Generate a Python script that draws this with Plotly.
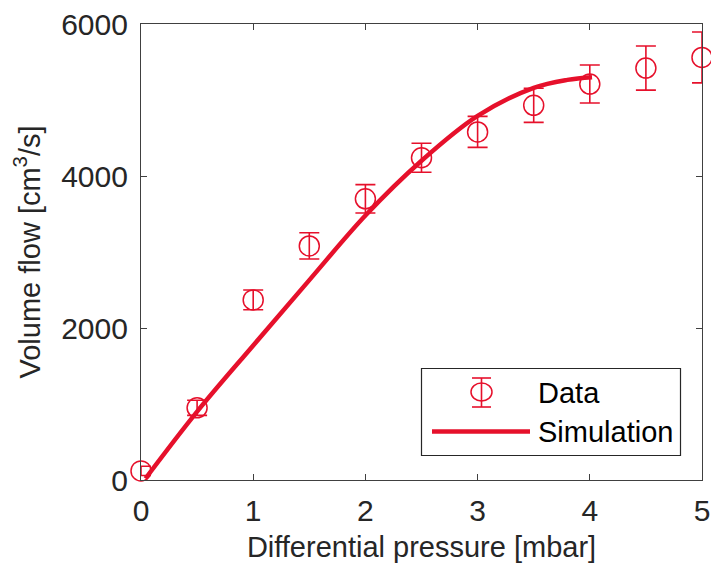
import plotly.graph_objects as go

# Measured volume flow versus differential pressure
pressure = [0, 0.5, 1.0, 1.5, 2.0, 2.5, 3.0, 3.5, 4.0, 4.5, 5.0]
flow = [120, 950, 2370, 3080, 3700, 4240, 4580, 4930, 5210, 5420, 5560]
flow_err = [60, 100, 130, 173, 186, 190, 204, 224, 250, 290, 335]

# Simulated curve
sim_pressure = [0.04, 0.5, 1.0, 1.5, 2.0, 2.5, 3.0, 3.5, 3.8, 4.02]
sim_flow = [20, 900, 1770, 2630, 3480, 4200, 4790, 5160, 5265, 5300]

x_ticks = [0, 1, 2, 3, 4, 5]
y_ticks = [0, 2000, 4000, 6000]

RED = "#E6102B"
AXIS = "#404040"
TEXT = "#262626"
FONT = "Liberation Sans, Arial, sans-serif"

W, H = 711, 566
L, R, T, B = 141, 9, 24, 86
PW, PH = W - L - R, H - T - B


def px(x):
    return (x - L) / PW


def py(y):
    return (H - B - y) / PH


fig = go.Figure()
fig.add_trace(go.Scatter(
    x=sim_pressure, y=sim_flow, mode="lines",
    line=dict(color=RED, width=4.5, shape="spline", smoothing=1.0),
    showlegend=False, cliponaxis=False,
))
fig.add_trace(go.Scatter(
    x=pressure, y=flow, mode="markers",
    marker=dict(symbol="circle-open", size=20, color=RED, line=dict(width=1.5, color=RED)),
    error_y=dict(type="data", array=flow_err, visible=True, color=RED, thickness=1.6, width=10),
    showlegend=False, cliponaxis=False,
))

axis_common = dict(
    showgrid=False, zeroline=False, showline=True, mirror="allticks",
    linecolor=AXIS, linewidth=1.2, ticks="inside", ticklen=6, tickwidth=1.2,
    tickcolor=AXIS, tickfont=dict(family=FONT, size=30, color=TEXT), automargin=False,
)

fig.update_xaxes(
    range=[0, 5], tickvals=x_ticks, ticktext=[str(v) for v in x_ticks],
    title=dict(text="Differential pressure [mbar]", font=dict(family=FONT, size=29, color=TEXT), standoff=10),
    ticklabelstandoff=4, **axis_common,
)
fig.update_yaxes(
    range=[0, 6000], tickvals=y_ticks, ticktext=[str(v) for v in y_ticks],
    title=dict(text="Volume flow [cm<sup>3</sup>/s]", font=dict(family=FONT, size=29, color=TEXT), standoff=12),
    ticklabelstandoff=6, **axis_common,
)

# Legend box drawn by hand
shapes = [
    dict(type="rect", xref="paper", yref="paper", x0=px(421.5), x1=px(680.5), y0=py(455.5), y1=py(368.5),
         line=dict(color=TEXT, width=1.2), fillcolor="white", layer="above"),
    dict(type="circle", xref="paper", yref="paper", x0=px(471), x1=px(492), y0=py(401), y1=py(383),
         line=dict(color=RED, width=1.5), layer="above"),
    dict(type="line", xref="paper", yref="paper", x0=px(481.5), x1=px(481.5), y0=py(407), y1=py(378),
         line=dict(color=RED, width=1.6), layer="above"),
    dict(type="line", xref="paper", yref="paper", x0=px(472), x1=px(491), y0=py(378), y1=py(378),
         line=dict(color=RED, width=1.6), layer="above"),
    dict(type="line", xref="paper", yref="paper", x0=px(472), x1=px(491), y0=py(407), y1=py(407),
         line=dict(color=RED, width=1.6), layer="above"),
    dict(type="line", xref="paper", yref="paper", x0=px(432), x1=px(530), y0=py(431.5), y1=py(431.5),
         line=dict(color=RED, width=4.5), layer="above"),
]
annotations = [
    dict(text="Data", xref="paper", yref="paper", x=px(536), y=py(393), xanchor="left", yanchor="middle",
         showarrow=False, font=dict(family=FONT, size=29, color="black")),
    dict(text="Simulation", xref="paper", yref="paper", x=px(536), y=py(432), xanchor="left", yanchor="middle",
         showarrow=False, font=dict(family=FONT, size=29, color="black")),
]

fig.update_layout(
    width=W, height=H, margin=dict(l=L, r=R, t=T, b=B),
    paper_bgcolor="white", plot_bgcolor="white",
    shapes=shapes, annotations=annotations, showlegend=False,
)

fig.write_html("out.html")
